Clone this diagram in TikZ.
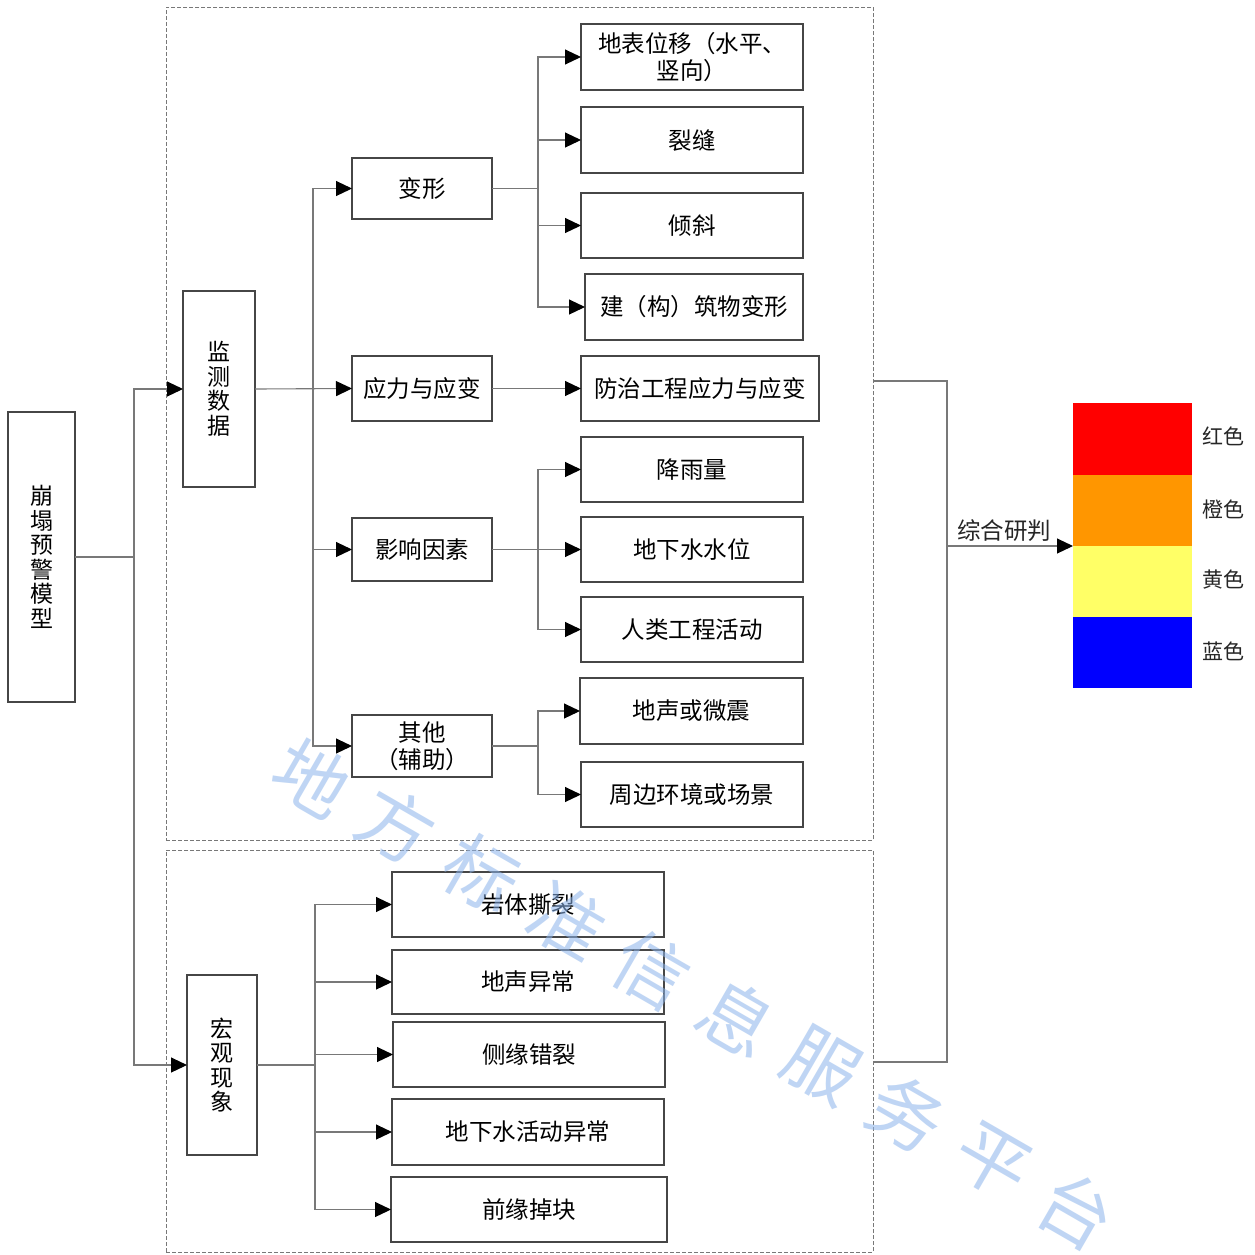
\documentclass[tikz,border=0pt]{standalone}
\usepackage{fontspec}
\setmainfont{Noto Sans CJK SC}
\usetikzlibrary{arrows.meta}
\definecolor{lc}{RGB}{120,120,120}
\definecolor{bc}{RGB}{70,70,70}
\definecolor{cred}{RGB}{255,0,0}
\definecolor{corange}{RGB}{255,150,0}
\definecolor{cyellow}{RGB}{255,255,102}
\definecolor{cblue}{RGB}{0,0,255}
\definecolor{wmc}{RGB}{140,180,235}
\tikzset{
  box/.style={draw=bc, line width=1.3pt, fill=white, inner sep=0pt, outer sep=0pt, align=center,
    font=\fontsize{23.5}{27}\selectfont},
  vbox/.style={box, font=\fontsize{23}{24.5}\selectfont},
  dbox/.style={draw=lc, dashed, dash pattern=on 4pt off 2pt, line width=0.9pt, inner sep=0pt, outer sep=0pt},
  conn/.style={draw=lc, line width=1.1pt},
  arr/.style={conn, -{Triangle[length=16pt,width=15pt,fill=black,color=black]}},
  bar/.style={inner sep=0pt, outer sep=0pt, minimum width=119pt},
  lab/.style={font=\fontsize{21}{23}\selectfont, text=black!85},
  wm/.style={font=\fontsize{74}{74}\selectfont, text=wmc, opacity=0.55}
}
\newcommand\bx[7][box]{\node[#1, minimum width={#5-#3}, minimum height={#6-#4}] (#2) at ({(#3+#5)/2},{(#4+#6)/2}) {#7};}
\begin{document}
\begin{tikzpicture}[x=1pt,y=-1pt]
\useasboundingbox (0,0) rectangle (1255,1254);
\fill[white] (0,0) rectangle (1255,1254);
% dashed groups
\node[dbox, minimum width=707pt, minimum height=833pt] (topgrp) at (519.5,423.5) {};
\node[dbox, minimum width=707pt, minimum height=402pt] (botgrp) at (519.5,1051) {};
% main boxes
\bx[vbox]{model}{8}{412}{75}{702}{崩\\塌\\预\\警\\模\\型}
\bx[vbox]{jc}{183}{291}{255}{487}{监\\测\\数\\据}
\bx[vbox]{hg}{187}{975}{257}{1155}{宏\\观\\现\\象}
% second level
\bx{bx}{352}{158}{492}{219}{变形}
\bx{yl}{352}{356}{492}{421}{应力与应变}
\bx{yx}{352}{518}{492}{581}{影响因素}
\bx{qt}{352}{715}{492}{777}{其他\\（辅助）}
% third level
\bx{a1}{581}{24}{803}{90}{地表位移（水平、\\竖向）}
\bx{a2}{581}{107}{803}{173}{裂缝}
\bx{a3}{581}{193}{803}{258}{倾斜}
\bx{a4}{585}{274}{803}{340}{建（构）筑物变形}
\bx{b1}{581}{356}{819}{421}{防治工程应力与应变}
\bx{c1}{581}{437}{803}{502}{降雨量}
\bx{c2}{581}{517}{803}{582}{地下水水位}
\bx{c3}{581}{597}{803}{662}{人类工程活动}
\bx{d1}{580}{678}{803}{744}{地声或微震}
\bx{d2}{581}{762}{803}{827}{周边环境或场景}
% macro phenomena
\bx{e1}{392}{872}{664}{937}{岩体撕裂}
\bx{e2}{392}{950}{664}{1014}{地声异常}
\bx{e3}{393}{1022}{665}{1087}{侧缘错裂}
\bx{e4}{392}{1099}{664}{1165}{地下水活动异常}
\bx{e5}{391}{1177}{667}{1242}{前缘掉块}
% colour bar
\node[bar, fill=cred, minimum height=72pt] (red) at (1132.5,439) {};
\node[bar, fill=corange, minimum height=71pt] (orange) at (1132.5,510.5) {};
\node[bar, fill=cyellow, minimum height=71pt] (yellow) at (1132.5,581.5) {};
\node[bar, fill=cblue, minimum height=71pt] (blue) at (1132.5,652.5) {};
\node[lab] (lred) at (1223,436) {红色};
\node[lab] (lorange) at (1223,509) {橙色};
\node[lab] (lyellow) at (1223,580) {黄色};
\node[lab] (lblue) at (1223,651) {蓝色};
% junctions
\coordinate (j1) at (134,557);
\coordinate (j2) at (313,389);
\coordinate (j3) at (538,188.5);
\coordinate (j4) at (538,549.5);
\coordinate (j5) at (538,746);
\coordinate (j6) at (315,1065);
\coordinate (r1) at (873,381);
\coordinate (r2) at (947,381);
\coordinate (r3) at (947,1062);
\coordinate (r4) at (873,1062);
\coordinate (rj) at (947,546);
% connectors
\draw[conn] (model.east) -- (j1);
\draw[arr] (j1) |- (jc.west);
\draw[arr] (j1) |- (hg.west);
\draw[arr] (jc.east) -- (yl.west);
\draw[arr] (j2) |- (bx.west);
\draw[arr] (j2) |- (yx.west);
\draw[arr] (j2) |- (qt.west);
\draw[conn] (bx.east) -- (j3);
\foreach \t in {a1,a2,a3,a4} \draw[arr] (j3) |- (\t.west);
\draw[arr] (yl.east) -- (b1.west);
\draw[conn] (yx.east) -- (j4);
\foreach \t in {c1,c2,c3} \draw[arr] (j4) |- (\t.west);
\draw[conn] (qt.east) -- (j5);
\foreach \t in {d1,d2} \draw[arr] (j5) |- (\t.west);
\draw[conn] (hg.east) -- (j6);
\foreach \t in {e1,e2,e3,e4,e5} \draw[arr] (j6) |- (\t.west);
\draw[conn] (r1) -- (r2) -- (r3) -- (r4);
\draw[arr] (rj) -- node[above, font=\fontsize{23.5}{25}\selectfont, text=black!85, yshift=1pt, xshift=-6pt] (zh) {综合研判} (orange.south west);
% watermark
\foreach \c [count=\i from 0] in {地,方,标,准,信,息,服,务,平,台}
  \node[wm, rotate=-30] (wm\i) at ({312+85*\i},{778+48*\i}) {\c};
\end{tikzpicture}
\end{document}
